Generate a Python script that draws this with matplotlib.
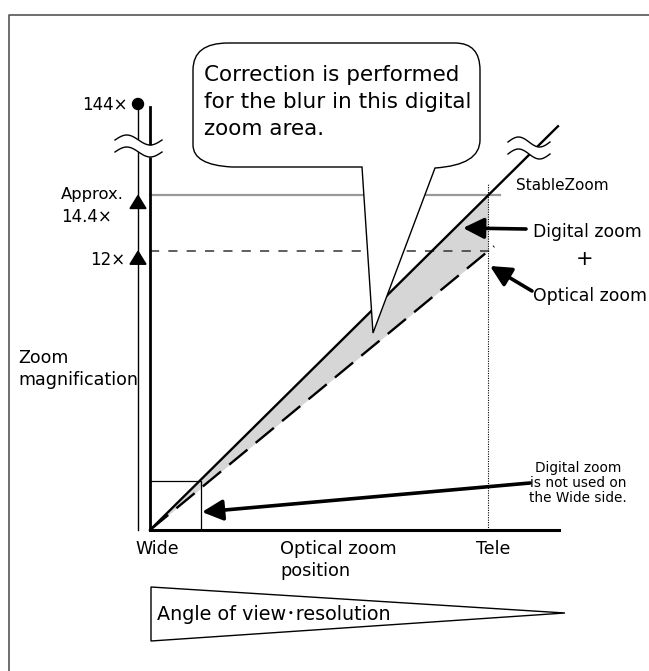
import numpy as np
import matplotlib.pyplot as plt
import matplotlib.transforms as mtransforms
from matplotlib.path import Path
from matplotlib.patches import PathPatch, Polygon, Rectangle, FancyArrowPatch, Circle

plt.rcParams['font.family'] = ['DejaVu Sans', 'Noto Sans CJK JP']

# optical zoom position: 0 = Wide, 1 = Tele
optical_pos = [0.0, 1.0]
stable_zoom = [0.0, 14.4]     # StableZoom magnification (digital + optical)
optical_zoom = [0.0, 12.0]    # optical zoom only
mag_levels = [12.0, 14.4]
mag_labels = ["12×", "14.4×"]
max_label = "144×"
stable_ext = 1.207            # line continues past Tele up to the break
wide_limit = 0.15             # digital zoom not used below this position

W, H = 649, 671
fig = plt.figure(figsize=(W / 100, H / 100), dpi=100)
ax = fig.add_axes([0, 0, 1, 1])
# Wide at x=150px, Tele at x=488px, mag 0 at y=530px, 23.23 px per unit
kx, ky = 338.0, 23.23
ax.set_xlim(-150 / kx, (W - 150) / kx)
ax.set_ylim(-(H - 530) / ky, 530 / ky)
ax.axis('off')

# pixel coordinates, origin top-left
pix = mtransforms.Affine2D().scale(1 / W, -1 / H).translate(0, 1) + ax.transAxes
pix_x = mtransforms.blended_transform_factory(pix, ax.transData)

# outer frame
ax.plot([9, 9, W + 5], [H + 5, 15, 15], color='#555555', lw=1.2, transform=pix, clip_on=False)

# gray digital zoom area
xs = np.array([0.0, optical_pos[1]])
ax.fill_between(xs, np.interp(xs, optical_pos, optical_zoom), np.interp(xs, optical_pos, stable_zoom),
                color='#d6d6d6', lw=0, zorder=1)

# magnification levels
ax.plot([0, 1.036], [mag_levels[1]] * 2, color='#999999', lw=1.6, zorder=2)
ax.plot([0, 1.018], [mag_levels[0]] * 2, color='#333333', lw=1.1, dashes=(6, 6), zorder=2)

# StableZoom line and optical zoom line
ax.plot([0, stable_ext], [0, stable_zoom[1] * stable_ext], color='black', lw=1.7, zorder=3)
ax.plot([0, 1.018], [0, optical_zoom[1] * 1.018], color='black', lw=1.7, dashes=(10, 4.5), zorder=3)

# Tele dotted line
ax.plot([1, 1], [0, (530 - 183) / ky], color='black', lw=0.8, dashes=(1, 1.2), zorder=3)

# axes
ax.plot([150, 150], [530, 107], color='black', lw=2.0, transform=pix, zorder=4)
ax.plot([138, 138], [530, 104], color='black', lw=1.0, transform=pix, zorder=4)
ax.plot([150, 559], [530, 530], color='black', lw=2.2, transform=pix, zorder=4)
ax.add_patch(Circle((138, 104), 5.5, color='black', transform=pix, zorder=5))

# level markers on the thin axis
for m in mag_levels:
    ax.add_patch(Polygon([(138, m), (130, m - 13 / ky), (146, m - 13 / ky)], closed=True,
                         color='black', transform=pix_x, zorder=5))
ax.text(125, 260, mag_labels[0], ha='right', va='center', fontsize=12, transform=pix)
ax.text(61, 195, "Approx.", ha='left', va='center', fontsize=11.8, transform=pix)
ax.text(61, 217, mag_labels[1], ha='left', va='center', fontsize=12, transform=pix)
ax.text(128, 105, max_label, ha='right', va='center', fontsize=12, transform=pix)


def breakmark(x0, x1, y0, gap):
    t = np.linspace(0, 1, 40)
    x = x0 + (x1 - x0) * t
    y1 = y0 - 5 * np.sin(2 * np.pi * t)
    ax.fill_between(x, y1, y1 + gap, color='white', transform=pix, zorder=6, lw=0)
    ax.plot(x, y1, color='black', lw=1.0, transform=pix, zorder=7)
    ax.plot(x, y1 + gap, color='black', lw=1.0, transform=pix, zorder=7)


breakmark(115, 162, 140, 12)
breakmark(508, 550, 142, 12)

# small box at the Wide side
ax.add_patch(Rectangle((0, 0), wide_limit, (530 - 481) / ky, fill=False, lw=0.9, ec='black', zorder=4))


def arrow(tail, head):
    ax.add_patch(FancyArrowPatch(tail, head, transform=pix, arrowstyle='-|>,head_length=9,head_width=4.5',
                                 mutation_scale=1.4, lw=2.6, color='black', zorder=8, shrinkA=0, shrinkB=0))


arrow((526, 229), (463, 228))
arrow((532, 291), (490, 266))
arrow((530, 483), (202, 512))

# speech bubble
verts = [(228, 43), (455, 43), (480, 43), (480, 70), (480, 140), (480, 165), (435, 168),
         (373, 333), (362, 167), (232, 167), (193, 165), (193, 145), (193, 70), (193, 43), (228, 43)]
codes = [Path.MOVETO, Path.LINETO, Path.CURVE3, Path.CURVE3, Path.LINETO, Path.CURVE3, Path.CURVE3,
         Path.LINETO, Path.LINETO, Path.LINETO, Path.CURVE3, Path.CURVE3, Path.LINETO, Path.CURVE3, Path.CURVE3]
ax.add_patch(PathPatch(Path(verts, codes), fc='white', ec='black', lw=1.0, transform=pix, zorder=9))
ax.text(204, 102, "Correction is performed\nfor the blur in this digital\nzoom area.", ha='left', va='center',
        fontsize=15.5, linespacing=1.42, transform=pix, zorder=10)

# right labels
ax.text(516, 185, "StableZoom", ha='left', va='center', fontsize=11, transform=pix)
ax.text(533, 232, "Digital zoom", ha='left', va='center', fontsize=12.4, transform=pix)
ax.text(585, 259, "+", ha='center', va='center', fontsize=15, transform=pix)
ax.text(533, 296, "Optical zoom", ha='left', va='center', fontsize=12.4, transform=pix)
ax.text(578, 483, "Digital zoom\nis not used on\nthe Wide side.", ha='center', va='center',
        fontsize=9.8, linespacing=1.1, transform=pix)

ax.text(18, 369, "Zoom\nmagnification", ha='left', va='center', fontsize=12.6, linespacing=1.25, transform=pix)

# x axis labels
ax.text(0.02, -19 / ky, "Wide", ha='center', va='center', fontsize=12.5)
ax.text(280, 560, "Optical zoom\nposition", ha='left', va='center', fontsize=12.8, linespacing=1.25, transform=pix)
ax.text(1.015, -19 / ky, "Tele", ha='center', va='center', fontsize=12.5)

# angle of view wedge
ax.add_patch(Polygon([(151, 587), (151, 641), (565, 613)], closed=True, fc='white', ec='black', lw=1.0,
                     transform=pix, zorder=4))
ax.text(157, 614, "Angle of view･resolution", ha='left', va='center', fontsize=13.8, transform=pix, zorder=5)

fig.savefig('out.png', dpi=100)
